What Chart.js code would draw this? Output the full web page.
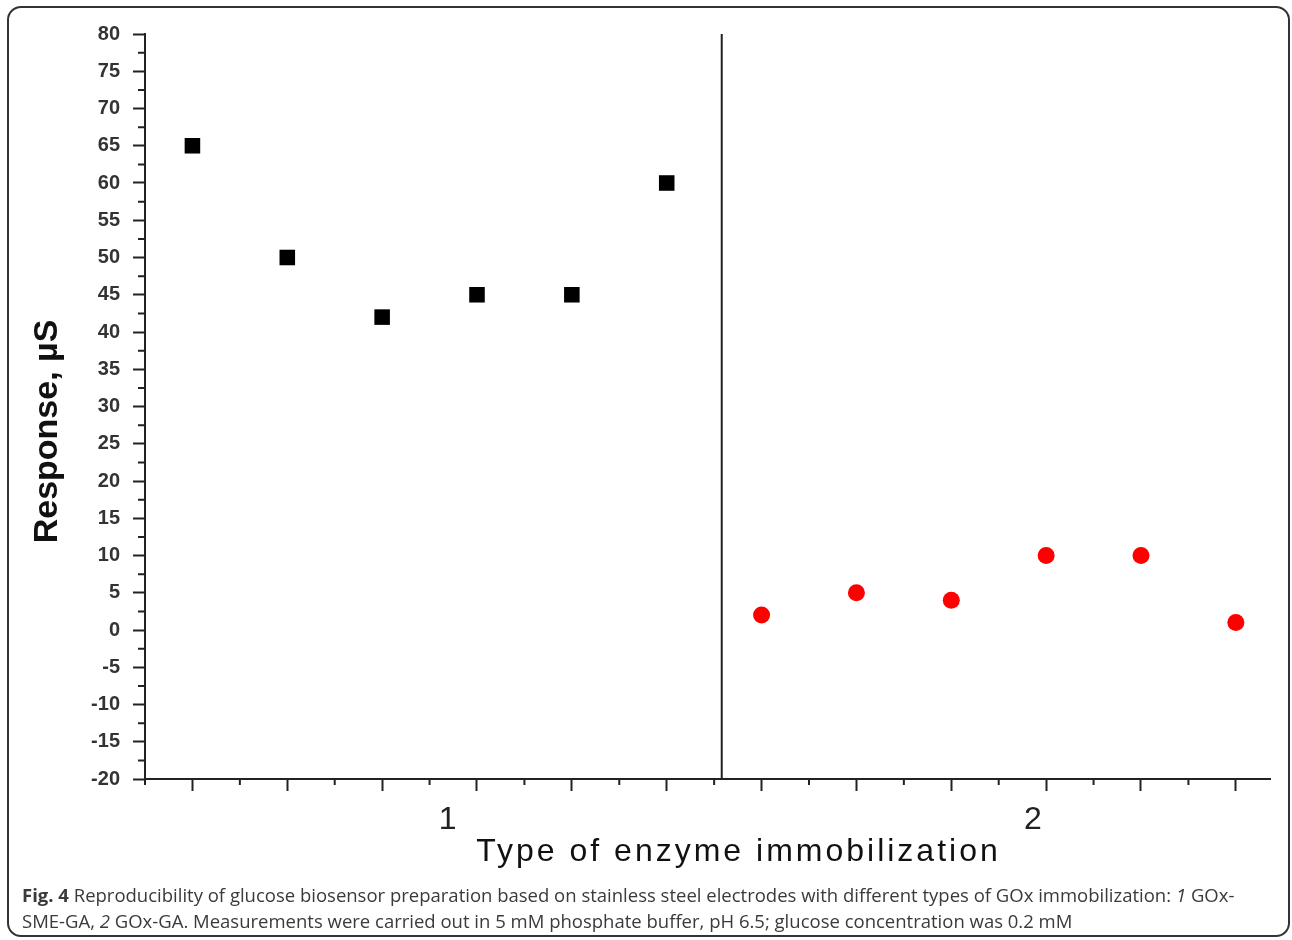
<!DOCTYPE html>
<html lang="en">
<head>
    <meta charset="UTF-8">
    <title>Fig. 4</title>
    <script src="https://cdn.jsdelivr.net/npm/chart.js"></script>
    <style>
        body {
            margin: 0;
            background: #ffffff;
            width: 1292px;
            height: 940px;
            position: relative;
            overflow: hidden;
        }

        .frame {
            position: absolute;
            left: 7px;
            top: 6px;
            width: 1283px;
            height: 931px;
            box-sizing: border-box;
            border: 2px solid #333333;
            border-radius: 14px;
        }

        .chart-box {
            position: absolute;
            left: 0;
            top: 0;
            width: 1292px;
            height: 940px;
        }

        .caption {
            position: absolute;
            left: 22px;
            top: 882px;
            font-family: 'Open Sans', sans-serif;
            font-size: 18.5px;
            line-height: 26px;
            color: #3a3a3a;
            white-space: nowrap;
        }
    </style>
</head>
<body>
    <div class="frame"></div>
    <div class="chart-box">
        <canvas id="fig4"></canvas>
    </div>
    <div class="caption">
        <b>Fig. 4</b> Reproducibility of glucose biosensor preparation based on stainless steel electrodes with different types of GOx immobilization: <i>1</i> GOx-<br>SME-GA, <i>2</i> GOx-GA. Measurements were carried out in 5 mM phosphate buffer, pH 6.5; glucose concentration was 0.2 mM
    </div>

    <script>
        // electrode number (x) and response in µS (y)
        const smePos = [1, 2, 3, 4, 5, 6];
        const smeVal = [65, 50, 42, 45, 45, 60];     // 1: GOx-SME-GA
        const gaPos = [7, 8, 9, 10, 11, 12];
        const gaVal = [2, 5, 4, 10, 10, 1];          // 2: GOx-GA

        const groupLabels = ['1', '2'];
        const groupLabelPos = [3.69, 9.86];

        const xMin = 0.5, xMax = 12.36;
        const yMin = -20, yMax = 80, yStep = 5;
        const dividerAt = 6.58;

        const xTitle = 'Type of enzyme immobilization';
        const yTitle = 'Response, µS';

        const axisColor = '#222222';

        // minor ticks, separator line and axis titles
        const extras = {
            id: 'extras',
            afterDraw(chart) {
                const { ctx, chartArea: a, scales: { x, y } } = chart;
                ctx.save();
                ctx.strokeStyle = axisColor;
                ctx.lineWidth = 2;
                ctx.beginPath();
                for (let v = xMin; v < xMax; v += 1) {
                    const px = x.getPixelForValue(v);
                    ctx.moveTo(px, a.bottom);
                    ctx.lineTo(px, a.bottom + 6);
                }
                for (let v = yMin + yStep / 2; v < yMax; v += yStep) {
                    const py = y.getPixelForValue(v);
                    ctx.moveTo(a.left, py);
                    ctx.lineTo(a.left - 7, py);
                }
                const dx = x.getPixelForValue(dividerAt);
                ctx.moveTo(dx, y.getPixelForValue(yMax));
                ctx.lineTo(dx, y.getPixelForValue(yMin));
                ctx.stroke();

                ctx.fillStyle = '#111111';
                ctx.font = '32px "Liberation Sans", Arial, sans-serif';
                ctx.letterSpacing = '3px';
                ctx.textAlign = 'center';
                ctx.textBaseline = 'alphabetic';
                ctx.fillText(xTitle, (a.left + a.right) / 2 + 31, a.bottom + 82);

                ctx.letterSpacing = '0px';
                ctx.font = 'bold 34px "Liberation Sans", Arial, sans-serif';
                ctx.translate(57, (a.top + a.bottom) / 2 + 25);
                ctx.rotate(-Math.PI / 2);
                ctx.fillText(yTitle, 0, 0);
                ctx.restore();
            }
        };

        const tickFont = { family: 'Liberation Sans', size: 20, weight: 'bold' };
        const groupFont = { family: 'Liberation Sans', size: 32 };

        new Chart(document.getElementById('fig4'), {
            type: 'scatter',
            data: {
                datasets: [
                    {
                        label: 'GOx-SME-GA',
                        data: smePos.map((p, i) => ({ x: p, y: smeVal[i] })),
                        pointStyle: 'rect',
                        pointRadius: 11,
                        backgroundColor: '#000000',
                        borderColor: '#000000',
                        borderWidth: 0
                    },
                    {
                        label: 'GOx-GA',
                        data: gaPos.map((p, i) => ({ x: p, y: gaVal[i] })),
                        pointStyle: 'circle',
                        pointRadius: 8.5,
                        backgroundColor: '#ff0000',
                        borderColor: '#ff0000',
                        borderWidth: 0
                    }
                ]
            },
            options: {
                responsive: true,
                maintainAspectRatio: false,
                animation: false,
                layout: { padding: { top: 34, right: 22, bottom: 0, left: 0 } },
                plugins: {
                    legend: { display: false },
                    tooltip: { enabled: false }
                },
                scales: {
                    x: {
                        type: 'linear',
                        min: xMin,
                        max: xMax,
                        weight: 0,
                        afterBuildTicks: s => { s.ticks = smePos.concat(gaPos).map(v => ({ value: v })); },
                        afterFit: s => { s.height = 12; },
                        ticks: { display: false },
                        grid: { drawOnChartArea: false, tickLength: 12, tickWidth: 2, tickColor: axisColor },
                        border: { color: axisColor, width: 2 }
                    },
                    x2: {
                        type: 'linear',
                        position: 'bottom',
                        min: xMin,
                        max: xMax,
                        weight: 1,
                        afterBuildTicks: s => { s.ticks = groupLabelPos.map(v => ({ value: v })); },
                        afterFit: s => { s.height = 149; },
                        ticks: {
                            callback: (v, i) => groupLabels[i],
                            autoSkip: false,
                            maxRotation: 0,
                            font: groupFont,
                            color: '#222222',
                            padding: 10
                        },
                        grid: { display: false, drawTicks: false },
                        border: { display: false }
                    },
                    y: {
                        min: yMin,
                        max: yMax,
                        afterFit: s => { s.width = 145; },
                        ticks: { stepSize: yStep, font: tickFont, color: '#333333', padding: 13 },
                        grid: { drawOnChartArea: false, tickLength: 12, tickWidth: 2, tickColor: axisColor },
                        border: { color: axisColor, width: 2 }
                    }
                }
            },
            plugins: [extras]
        });
    </script>
</body>
</html>
